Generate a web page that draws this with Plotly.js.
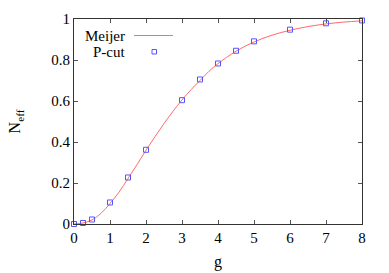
<!DOCTYPE html>
<html><head><meta charset="utf-8">
<script src="https://cdn.plot.ly/plotly-3.0.1.min.js"></script>
<style>html,body{margin:0;padding:0;background:#fff}#c{width:389px;height:273px}</style>
</head><body><div id="c"></div>
<script>
// Meijer curve
const meijerG = [0,0.25,0.5,0.75,1,1.25,1.5,1.75,2,2.25,2.5,2.75,3,3.25,3.5,3.75,4,4.5,5,5.5,6,6.5,7,7.5,8];
const meijerN = [0,0.005,0.02,0.052,0.1,0.155,0.222,0.29,0.36,0.426,0.49,0.55,0.605,0.655,0.70,0.745,0.782,0.843,0.888,0.921,0.945,0.963,0.976,0.985,0.991];
// P-cut points
const pcutG = [0,0.25,0.5,1,1.5,2,3,3.5,4,4.5,5,6,7,8];
const pcutN = [0,0.005,0.022,0.105,0.227,0.362,0.604,0.705,0.783,0.845,0.891,0.948,0.979,0.993];
const xTicks = [0,1,2,3,4,5,6,7,8];
const yTicks = [0,0.2,0.4,0.6,0.8,1];
const yTickText = ['0','0.2','0.4','0.6','0.8','1'];

const fam = '"Liberation Serif", "Times New Roman", serif';
const font = {family:fam, size:15, color:'#000'};
const titleFont = {family:fam, size:16, color:'#000'};
const traces = [
  {x:meijerG, y:meijerN, mode:'lines', line:{color:'#ff6a6a', width:1, shape:'spline'}, name:'Meijer', showlegend:false},
  {x:pcutG, y:pcutN, mode:'markers', marker:{symbol:'square-open', size:5, color:'#5555ff', line:{width:1}}, name:'P-cut', showlegend:false, cliponaxis:false}
];
const axisCommon = {showgrid:false, zeroline:false, showline:true, linecolor:'#333', linewidth:1, mirror:'ticks', ticks:'inside', ticklen:4, tickcolor:'#555', tickfont:font};
const layout = {
  width:389, height:273, margin:{l:74, r:27, t:19, b:49},
  font:{family:fam},
  paper_bgcolor:'#fff', plot_bgcolor:'#fff', showlegend:false,
  xaxis: Object.assign({}, axisCommon, {range:[0,8], tickvals:xTicks, ticktext:xTicks.map(String), title:{text:'g', font:titleFont, standoff:10}}),
  yaxis: Object.assign({}, axisCommon, {range:[0,1], tickvals:yTicks, ticktext:yTickText, title:{text:'N<sub>eff</sub>', font:titleFont, standoff:26}}),
  annotations:[
    {xref:'paper', yref:'paper', x:(127-74)/288, y:(224-36)/205, xanchor:'right', yanchor:'middle', text:'Meijer', showarrow:false, font:font},
    {xref:'paper', yref:'paper', x:(127-74)/288, y:(224-52)/205, xanchor:'right', yanchor:'middle', text:'P-cut', showarrow:false, font:font}
  ],
  shapes:[
    {type:'line', xref:'paper', yref:'paper', x0:(134-74)/288, x1:(173-74)/288, y0:(224-35.5)/205, y1:(224-35.5)/205, line:{color:'#ff6a6a', width:1}},
    {type:'rect', xref:'paper', yref:'paper', x0:(152-74)/288, x1:(156.5-74)/288, y0:(224-49.5)/205, y1:(224-54)/205, line:{color:'#5555ff', width:1}}
  ]
};
Plotly.newPlot('c', traces, layout, {staticPlot:true, displayModeBar:false});
</script></body></html>
